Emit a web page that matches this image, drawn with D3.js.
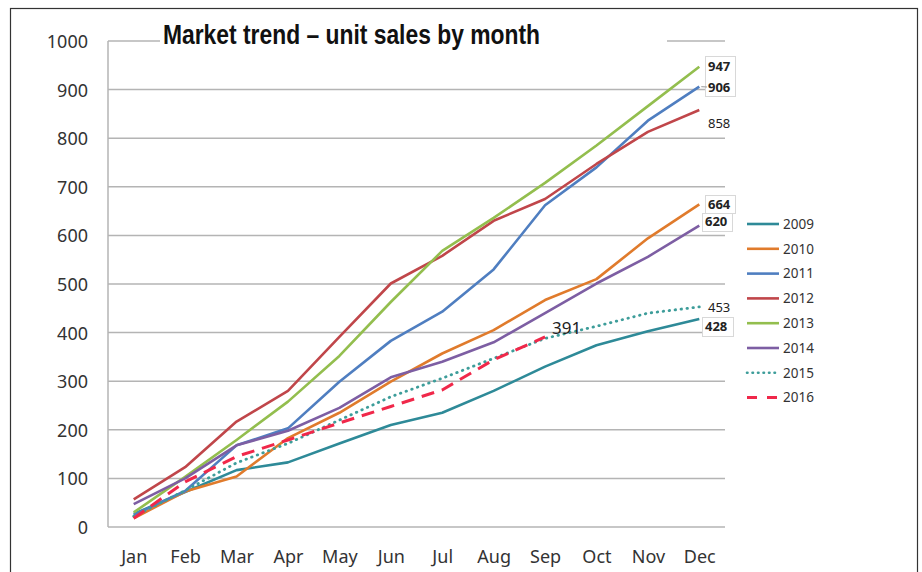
<!DOCTYPE html>
<html><head><meta charset="utf-8">
<script src="https://cdn.jsdelivr.net/npm/d3@7"></script>
<style>
html,body{margin:0;padding:0;background:#fff;}
svg{display:block;}
</style></head>
<body>
<svg id="chart" width="922" height="572"></svg>
<script>
const months = ["Jan","Feb","Mar","Apr","May","Jun","Jul","Aug","Sep","Oct","Nov","Dec"];
const years = ["2009","2010","2011","2012","2013","2014","2015","2016"];
const s2009 = [27, 72, 117, 133, 172, 210, 235, 280, 330, 374, 403, 428];
const s2010 = [18, 73, 104, 183, 235, 299, 357, 405, 467, 510, 594, 664];
const s2011 = [25, 74, 168, 203, 299, 383, 443, 530, 662, 740, 836, 906];
const s2012 = [57, 123, 217, 280, 391, 501, 558, 630, 675, 747, 813, 858];
const s2013 = [30, 103, 179, 258, 352, 463, 568, 636, 708, 785, 866, 947];
const s2014 = [47, 100, 168, 198, 245, 308, 340, 380, 440, 501, 556, 620];
const s2015 = [22, 75, 132, 172, 220, 268, 306, 347, 388, 413, 440, 453];
const s2016 = [18, 93, 145, 179, 214, 248, 282, 344, 391];
const yTicks = [0,100,200,300,400,500,600,700,800,900,1000];
const colors = ["#2E8A98","#E07B2C","#4F7EC0","#C0464A","#93BE4E","#7D5EA3","#3D9D9A","#F0284A"];
const series = [s2009,s2010,s2011,s2012,s2013,s2014,s2015,s2016];

const svg = d3.select("#chart");
const x = d3.scalePoint().domain(months).range([108, 725]).padding(0.5);
const y = d3.scaleLinear().domain([0, 1000]).range([527, 41]);

// outer frame
svg.append("rect").attr("x",10.5).attr("y",8.5).attr("width",907).attr("height",600)
  .attr("fill","none").attr("stroke","#333").attr("stroke-width",1.2);

// gridlines
svg.append("g").selectAll("line").data(yTicks).join("line")
  .attr("x1",108).attr("x2",725).attr("y1",d=>y(d)).attr("y2",d=>y(d))
  .attr("stroke","#b4b4b4").attr("stroke-width",1.5);
svg.append("line").attr("x1",108).attr("x2",108).attr("y1",y(1000)).attr("y2",y(0))
  .attr("stroke","#b4b4b4").attr("stroke-width",1.5);

// y tick labels
const yAxis = d3.axisLeft(y).tickValues(yTicks).tickFormat(d3.format("d")).tickSize(0).tickPadding(0);
const gy = svg.append("g").attr("transform","translate(88,0)").call(yAxis);
gy.select(".domain").remove();
gy.selectAll("text").attr("font-family","'Noto Sans', 'Open Sans', sans-serif").attr("font-size",18).attr("fill","#333").attr("dy","0.36em");

// x tick labels
const xAxis = d3.axisBottom(x).tickSize(0).tickPadding(0);
const gx = svg.append("g").attr("transform","translate(0,550)").call(xAxis);
gx.select(".domain").remove();
gx.selectAll("text").attr("font-family","'Noto Sans', 'Open Sans', sans-serif").attr("font-size",18).attr("fill","#333").attr("dy","0.7em");

// lines
const line = d3.line().x((d,i)=>x(months[i])).y(d=>y(d));
series.forEach((s,k)=>{
  const p = svg.append("path").datum(s).attr("d",line).attr("fill","none")
    .attr("stroke",colors[k]).attr("stroke-width", k===7?3:2.6).attr("stroke-linejoin","round");
  if (k===7) p.attr("stroke-dasharray","13,8");
  if (k===6) p.attr("stroke-linecap","round").attr("stroke-dasharray","0.5,5.5").attr("stroke-width",2.8);
});

// end labels
const ends = [
  {v:s2013[11], ty:66, bold:true},
  {v:s2011[11], ty:87, bold:true},
  {v:s2012[11], ty:123, bold:false},
  {v:s2010[11], ty:204, bold:true},
  {v:s2014[11], ty:221, bold:true, dx:-3},
  {v:s2015[11], ty:307, bold:false},
  {v:s2009[11], ty:326, bold:true, dx:-3}
];
svg.append("rect").attr("x",705.5).attr("y",56.5).attr("width",30).attr("height",40)
  .attr("fill","#fff").attr("stroke","#d8d8d8");
svg.append("rect").attr("x",705.5).attr("y",195.5).attr("width",30).attr("height",18)
  .attr("fill","#fff").attr("stroke","#d8d8d8");
svg.append("rect").attr("x",702.5).attr("y",213.5).attr("width",30).attr("height",18)
  .attr("fill","#fff").attr("stroke","#d8d8d8");
svg.append("rect").attr("x",702.5).attr("y",317.5).attr("width",31).attr("height",19)
  .attr("fill","#fff").attr("stroke","#d8d8d8");
svg.append("line").attr("x1",x("Dec")+2).attr("x2",707).attr("y1",y(s2011[11])).attr("y2",87)
  .attr("stroke","#999").attr("stroke-width",1);
ends.forEach(e=>{
  svg.append("text").attr("x",708+(e.dx||0)).attr("y",e.ty).attr("dy","0.35em")
    .attr("font-family","'Noto Sans', 'Open Sans', sans-serif")
    .attr("font-size",13).attr("font-weight",e.bold?"bold":"normal")
    .attr("fill","#222").text(e.v);
});

// 391 label
svg.append("text").attr("x",x("Sep")+7).attr("y",y(s2016[8])-3)
  .attr("font-family","'Noto Sans', 'Open Sans', sans-serif").attr("font-size",17)
  .attr("fill","#222").text(s2016[8]);

// legend
const lg = svg.append("g");
years.forEach((yr,k)=>{
  const ly = 224 + k*24.8;
  const l = lg.append("line").attr("x1",747).attr("x2",779).attr("y1",ly).attr("y2",ly)
    .attr("stroke",colors[k]).attr("stroke-width",2.6);
  if (k===6) l.attr("stroke-dasharray","0.5,5").attr("stroke-linecap","round").attr("stroke-width",2.6);
  if (k===7) l.attr("stroke-dasharray","10,10").attr("stroke-width",3);
  lg.append("text").attr("x",783).attr("y",ly).attr("dy","0.36em")
    .attr("font-family","'Noto Sans', 'Open Sans', sans-serif").attr("font-size",13.5)
    .attr("fill","#333").text(yr);
});

// title
svg.append("rect").attr("x",160).attr("y",24).attr("width",507).attr("height",26).attr("fill","#fff");
svg.append("text").attr("x",163).attr("y",44)
  .attr("font-family","'Liberation Sans Narrow', 'Liberation Sans', sans-serif")
  .attr("font-weight","bold").attr("font-size",27.5)
  .attr("textLength",377).attr("lengthAdjust","spacingAndGlyphs")
  .attr("fill","#111").text("Market trend – unit sales by month");
</script>
</body></html>
